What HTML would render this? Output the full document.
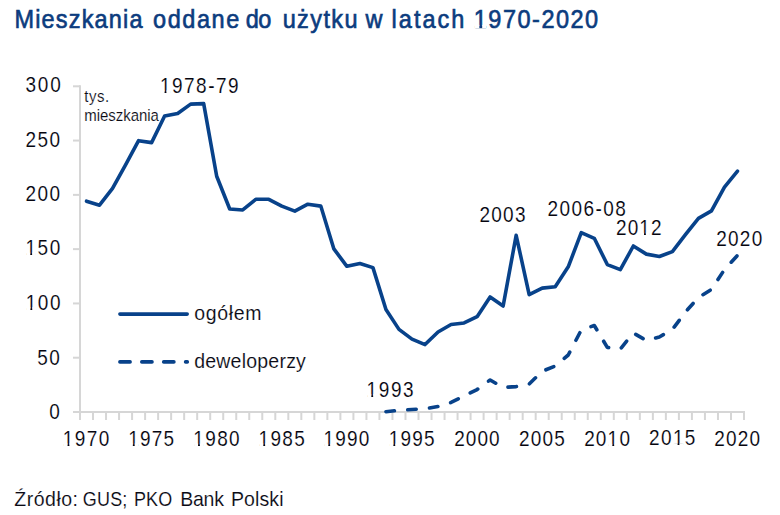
<!DOCTYPE html>
<html><head><meta charset="utf-8">
<style>
html,body{margin:0;padding:0;background:#fff;}
body{width:780px;height:515px;overflow:hidden;}
svg{display:block;font-family:"Liberation Sans",sans-serif;}
</style></head><body>
<svg width="780" height="515" viewBox="0 0 780 515">
<rect width="780" height="515" fill="#fff"/>
<g stroke="#d6d6d6" stroke-width="2" fill="none">
<line x1="80" y1="85.2" x2="80" y2="413"/>
<line x1="73" y1="412" x2="745" y2="412"/>
<line x1="80.00" y1="412" x2="80.00" y2="420"/>
<line x1="93.02" y1="412" x2="93.02" y2="420"/>
<line x1="106.04" y1="412" x2="106.04" y2="420"/>
<line x1="119.06" y1="412" x2="119.06" y2="420"/>
<line x1="132.08" y1="412" x2="132.08" y2="420"/>
<line x1="145.10" y1="412" x2="145.10" y2="420"/>
<line x1="158.12" y1="412" x2="158.12" y2="420"/>
<line x1="171.14" y1="412" x2="171.14" y2="420"/>
<line x1="184.16" y1="412" x2="184.16" y2="420"/>
<line x1="197.18" y1="412" x2="197.18" y2="420"/>
<line x1="210.20" y1="412" x2="210.20" y2="420"/>
<line x1="223.22" y1="412" x2="223.22" y2="420"/>
<line x1="236.24" y1="412" x2="236.24" y2="420"/>
<line x1="249.25" y1="412" x2="249.25" y2="420"/>
<line x1="262.27" y1="412" x2="262.27" y2="420"/>
<line x1="275.29" y1="412" x2="275.29" y2="420"/>
<line x1="288.31" y1="412" x2="288.31" y2="420"/>
<line x1="301.33" y1="412" x2="301.33" y2="420"/>
<line x1="314.35" y1="412" x2="314.35" y2="420"/>
<line x1="327.37" y1="412" x2="327.37" y2="420"/>
<line x1="340.39" y1="412" x2="340.39" y2="420"/>
<line x1="353.41" y1="412" x2="353.41" y2="420"/>
<line x1="366.43" y1="412" x2="366.43" y2="420"/>
<line x1="379.45" y1="412" x2="379.45" y2="420"/>
<line x1="392.47" y1="412" x2="392.47" y2="420"/>
<line x1="405.49" y1="412" x2="405.49" y2="420"/>
<line x1="418.51" y1="412" x2="418.51" y2="420"/>
<line x1="431.53" y1="412" x2="431.53" y2="420"/>
<line x1="444.55" y1="412" x2="444.55" y2="420"/>
<line x1="457.57" y1="412" x2="457.57" y2="420"/>
<line x1="470.59" y1="412" x2="470.59" y2="420"/>
<line x1="483.61" y1="412" x2="483.61" y2="420"/>
<line x1="496.63" y1="412" x2="496.63" y2="420"/>
<line x1="509.65" y1="412" x2="509.65" y2="420"/>
<line x1="522.67" y1="412" x2="522.67" y2="420"/>
<line x1="535.69" y1="412" x2="535.69" y2="420"/>
<line x1="548.71" y1="412" x2="548.71" y2="420"/>
<line x1="561.73" y1="412" x2="561.73" y2="420"/>
<line x1="574.75" y1="412" x2="574.75" y2="420"/>
<line x1="587.76" y1="412" x2="587.76" y2="420"/>
<line x1="600.78" y1="412" x2="600.78" y2="420"/>
<line x1="613.80" y1="412" x2="613.80" y2="420"/>
<line x1="626.82" y1="412" x2="626.82" y2="420"/>
<line x1="639.84" y1="412" x2="639.84" y2="420"/>
<line x1="652.86" y1="412" x2="652.86" y2="420"/>
<line x1="665.88" y1="412" x2="665.88" y2="420"/>
<line x1="678.90" y1="412" x2="678.90" y2="420"/>
<line x1="691.92" y1="412" x2="691.92" y2="420"/>
<line x1="704.94" y1="412" x2="704.94" y2="420"/>
<line x1="717.96" y1="412" x2="717.96" y2="420"/>
<line x1="730.98" y1="412" x2="730.98" y2="420"/>
<line x1="744.00" y1="412" x2="744.00" y2="420"/>
<line x1="73" y1="357.71" x2="80" y2="357.71"/>
<line x1="73" y1="303.43" x2="80" y2="303.43"/>
<line x1="73" y1="249.14" x2="80" y2="249.14"/>
<line x1="73" y1="194.86" x2="80" y2="194.86"/>
<line x1="73" y1="140.57" x2="80" y2="140.57"/>
<line x1="73" y1="86.29" x2="80" y2="86.29"/>
</g>
<polyline points="86.50,201.16 99.52,205.17 112.54,188.45 125.56,164.79 138.58,140.68 151.60,142.64 164.62,116.04 177.64,113.54 190.66,104.10 203.68,103.66 216.70,176.29 229.72,208.97 242.74,209.95 255.76,199.31 268.78,199.31 281.80,206.15 294.82,211.15 307.84,204.20 320.86,206.15 333.88,248.93 346.90,266.30 359.92,263.48 372.94,267.60 385.96,309.51 398.98,329.38 412.00,339.15 425.02,344.58 438.04,331.98 451.06,324.49 464.08,322.97 477.10,316.68 490.12,296.92 503.14,306.04 516.16,235.36 529.18,294.64 542.20,288.12 555.22,286.71 568.24,266.84 581.26,232.64 594.28,238.29 607.30,264.56 620.32,269.66 633.34,246.00 646.36,254.14 659.38,256.53 672.40,251.64 685.42,234.71 698.44,218.42 711.46,210.93 724.48,187.04 737.50,171.08" fill="none" stroke="#08428a" stroke-width="3.6" stroke-linejoin="round" stroke-linecap="round"/>
<polyline points="385.96,411.67 398.98,410.37 412.00,409.50 425.02,408.74 438.04,406.57 451.06,402.45 464.08,396.04 477.10,389.53 490.12,379.97 503.14,387.46 516.16,386.59 529.18,383.99 542.20,371.29 555.22,365.97 568.24,355.00 581.26,330.03 594.28,325.47 607.30,347.40 620.32,349.03 633.34,332.96 646.36,340.45 659.38,336.98 672.40,329.49 685.42,312.01 698.44,297.46 711.46,289.42 724.48,269.56 737.50,255.33" fill="none" stroke="#08428a" stroke-width="3.6" stroke-linejoin="round" stroke-linecap="round" stroke-dasharray="8.5 13.35"/>
<line x1="119.9" y1="314.1" x2="187.2" y2="314.1" stroke="#08428a" stroke-width="3.6" stroke-linecap="round"/>
<line x1="119.9" y1="361.9" x2="187.3" y2="361.9" stroke="#08428a" stroke-width="3.6" stroke-linecap="round" stroke-dasharray="10.2 11.7"/>
<text transform="translate(49.17 419.25) scale(1 1.17)" font-size="19" fill="#05050f" stroke="#fff" stroke-width="0.12" textLength="25.55" lengthAdjust="spacing">0</text>
<text transform="translate(37.31 364.50) scale(1 1.17)" font-size="19" fill="#05050f" stroke="#fff" stroke-width="0.12" textLength="22.42" lengthAdjust="spacing">50</text>
<text transform="translate(25.70 309.61) scale(1 1.17)" font-size="19" fill="#05050f" stroke="#fff" stroke-width="0.12" textLength="34.75" lengthAdjust="spacing">100</text>
<text transform="translate(25.57 254.92) scale(1 1.17)" font-size="19" fill="#05050f" stroke="#fff" stroke-width="0.12" textLength="34.66" lengthAdjust="spacing">150</text>
<text transform="translate(25.53 201.09) scale(1 1.17)" font-size="19" fill="#05050f" stroke="#fff" stroke-width="0.12" textLength="34.53" lengthAdjust="spacing">200</text>
<text transform="translate(25.56 146.85) scale(1 1.17)" font-size="19" fill="#05050f" stroke="#fff" stroke-width="0.12" textLength="34.50" lengthAdjust="spacing">250</text>
<text transform="translate(25.54 91.96) scale(1 1.17)" font-size="19" fill="#05050f" stroke="#fff" stroke-width="0.12" textLength="35.17" lengthAdjust="spacing">300</text>
<text transform="translate(62.86 445.83) scale(1 1.17)" font-size="19" fill="#05050f" stroke="#fff" stroke-width="0.12" textLength="46.54" lengthAdjust="spacing">1970</text>
<text transform="translate(128.14 445.84) scale(1 1.17)" font-size="19" fill="#05050f" stroke="#fff" stroke-width="0.12" textLength="45.84" lengthAdjust="spacing">1975</text>
<text transform="translate(193.36 445.82) scale(1 1.17)" font-size="19" fill="#05050f" stroke="#fff" stroke-width="0.12" textLength="46.28" lengthAdjust="spacing">1980</text>
<text transform="translate(258.59 445.80) scale(1 1.17)" font-size="19" fill="#05050f" stroke="#fff" stroke-width="0.12" textLength="46.13" lengthAdjust="spacing">1985</text>
<text transform="translate(323.58 446.13) scale(1 1.17)" font-size="19" fill="#05050f" stroke="#fff" stroke-width="0.12" textLength="45.68" lengthAdjust="spacing">1990</text>
<text transform="translate(388.67 446.02) scale(1 1.17)" font-size="19" fill="#05050f" stroke="#fff" stroke-width="0.12" textLength="45.85" lengthAdjust="spacing">1995</text>
<text transform="translate(454.16 446.02) scale(1 1.17)" font-size="19" fill="#05050f" stroke="#fff" stroke-width="0.12" textLength="45.53" lengthAdjust="spacing">2000</text>
<text transform="translate(519.03 445.96) scale(1 1.17)" font-size="19" fill="#05050f" stroke="#fff" stroke-width="0.12" textLength="45.85" lengthAdjust="spacing">2005</text>
<text transform="translate(584.13 446.17) scale(1 1.17)" font-size="19" fill="#05050f" stroke="#fff" stroke-width="0.12" textLength="45.82" lengthAdjust="spacing">2010</text>
<text transform="translate(649.03 445.43) scale(1 1.17)" font-size="19" fill="#05050f" stroke="#fff" stroke-width="0.12" textLength="46.35" lengthAdjust="spacing">2015</text>
<text transform="translate(714.18 446.02) scale(1 1.17)" font-size="19" fill="#05050f" stroke="#fff" stroke-width="0.12" textLength="45.90" lengthAdjust="spacing">2020</text>
<text transform="translate(159.88 92.80) scale(1 1.17)" font-size="19" fill="#05050f" stroke="#fff" stroke-width="0.12" textLength="78.78" lengthAdjust="spacing">1978-79</text>
<text transform="translate(366.60 396.56) scale(1 1.17)" font-size="19" fill="#05050f" stroke="#fff" stroke-width="0.12" textLength="47.06" lengthAdjust="spacing">1993</text>
<text transform="translate(479.39 221.74) scale(1 1.17)" font-size="19" fill="#05050f" stroke="#fff" stroke-width="0.12" textLength="46.18" lengthAdjust="spacing">2003</text>
<text transform="translate(547.42 215.86) scale(1 1.17)" font-size="19" fill="#05050f" stroke="#fff" stroke-width="0.12" textLength="78.35" lengthAdjust="spacing">2006-08</text>
<text transform="translate(616.06 235.00) scale(1 1.17)" font-size="19" fill="#05050f" stroke="#fff" stroke-width="0.12" textLength="45.46" lengthAdjust="spacing">2012</text>
<text transform="translate(716.26 245.89) scale(1 1.17)" font-size="19" fill="#05050f" stroke="#fff" stroke-width="0.12" textLength="45.96" lengthAdjust="spacing">2020</text>
<text transform="translate(14.43 27.70) scale(1 1.09)" font-size="23.5" fill="#0c3c7e" stroke="#0c3c7e" stroke-width="0.6" textLength="128.15" lengthAdjust="spacing">Mieszkania</text>
<text transform="translate(153.05 27.70) scale(1 1.09)" font-size="23.5" fill="#0c3c7e" stroke="#0c3c7e" stroke-width="0.6" textLength="86.21" lengthAdjust="spacing">oddane</text>
<text transform="translate(245.74 27.70) scale(1 1.09)" font-size="23.5" fill="#0c3c7e" stroke="#0c3c7e" stroke-width="0.6" textLength="25.64" lengthAdjust="spacing">do</text>
<text transform="translate(282.64 27.70) scale(1 1.09)" font-size="23.5" fill="#0c3c7e" stroke="#0c3c7e" stroke-width="0.6" textLength="74.88" lengthAdjust="spacing">użytku</text>
<text transform="translate(365.45 27.70) scale(1 1.09)" font-size="23.5" fill="#0c3c7e" stroke="#0c3c7e" stroke-width="0.6" textLength="27.59" lengthAdjust="spacing">w</text>
<text transform="translate(391.62 27.70) scale(1 1.09)" font-size="23.5" fill="#0c3c7e" stroke="#0c3c7e" stroke-width="0.6" textLength="72.82" lengthAdjust="spacing">latach</text>
<text transform="translate(473.81 27.70) scale(1 1.09)" font-size="23.5" fill="#0c3c7e" stroke="#0c3c7e" stroke-width="0.6" textLength="124.34" lengthAdjust="spacing">1970-2020</text>
<text transform="translate(14.35 505.60) scale(1 1.06)" font-size="19.5" fill="#0a0a14" stroke="#fff" stroke-width="0.12" textLength="63.65" lengthAdjust="spacing">Źródło:</text>
<text transform="translate(82.86 505.60) scale(1 1.15)" font-size="18" fill="#0a0a14" stroke="#fff" stroke-width="0.12" textLength="44.51" lengthAdjust="spacing">GUS;</text>
<text transform="translate(133.88 505.60) scale(1 1.15)" font-size="18" fill="#0a0a14" stroke="#fff" stroke-width="0.12" textLength="38.47" lengthAdjust="spacing">PKO</text>
<text transform="translate(180.28 505.60) scale(1 1.06)" font-size="19.5" fill="#0a0a14" stroke="#fff" stroke-width="0.12" textLength="43.62" lengthAdjust="spacing">Bank</text>
<text transform="translate(230.98 505.60) scale(1 1.06)" font-size="19.5" fill="#0a0a14" stroke="#fff" stroke-width="0.12" textLength="52.56" lengthAdjust="spacing">Polski</text>
<text transform="translate(84.24 101.70) scale(1 1.05)" font-size="15" fill="#0a0a14" stroke="#fff" stroke-width="0.12" textLength="24.97" lengthAdjust="spacing">tys.</text>
<text transform="translate(84.23 120.70) scale(1 1.05)" font-size="15" fill="#0a0a14" stroke="#fff" stroke-width="0.12" textLength="74.68" lengthAdjust="spacing">mieszkania</text>
<text transform="translate(194.31 320.00) scale(1 1.04)" font-size="19.5" fill="#0a0a14" stroke="#fff" stroke-width="0.12" textLength="67.27" lengthAdjust="spacing">ogółem</text>
<text transform="translate(194.17 367.80) scale(1 1.04)" font-size="19.5" fill="#0a0a14" stroke="#fff" stroke-width="0.12" textLength="111.67" lengthAdjust="spacing">deweloperzy</text>
<rect x="26.45" y="307.35" width="3.95" height="2.86" fill="#fff"/>
<rect x="32.24" y="307.35" width="3.80" height="2.86" fill="#fff"/>
<rect x="26.32" y="252.66" width="3.95" height="2.86" fill="#fff"/>
<rect x="32.11" y="252.66" width="3.80" height="2.86" fill="#fff"/>
<rect x="63.61" y="443.57" width="3.95" height="2.86" fill="#fff"/>
<rect x="69.40" y="443.57" width="3.80" height="2.86" fill="#fff"/>
<rect x="128.89" y="443.58" width="3.95" height="2.86" fill="#fff"/>
<rect x="134.68" y="443.58" width="3.80" height="2.86" fill="#fff"/>
<rect x="194.11" y="443.56" width="3.95" height="2.86" fill="#fff"/>
<rect x="199.90" y="443.56" width="3.80" height="2.86" fill="#fff"/>
<rect x="259.34" y="443.54" width="3.95" height="2.86" fill="#fff"/>
<rect x="265.13" y="443.54" width="3.80" height="2.86" fill="#fff"/>
<rect x="324.33" y="443.87" width="3.95" height="2.86" fill="#fff"/>
<rect x="330.12" y="443.87" width="3.80" height="2.86" fill="#fff"/>
<rect x="389.42" y="443.76" width="3.95" height="2.86" fill="#fff"/>
<rect x="395.21" y="443.76" width="3.80" height="2.86" fill="#fff"/>
<rect x="608.38" y="443.91" width="3.95" height="2.86" fill="#fff"/>
<rect x="614.17" y="443.91" width="3.80" height="2.86" fill="#fff"/>
<rect x="673.63" y="443.17" width="3.95" height="2.86" fill="#fff"/>
<rect x="679.42" y="443.17" width="3.80" height="2.86" fill="#fff"/>
<rect x="160.63" y="90.54" width="3.95" height="2.86" fill="#fff"/>
<rect x="166.42" y="90.54" width="3.80" height="2.86" fill="#fff"/>
<rect x="367.35" y="394.30" width="3.95" height="2.86" fill="#fff"/>
<rect x="373.14" y="394.30" width="3.80" height="2.86" fill="#fff"/>
<rect x="640.07" y="232.74" width="3.95" height="2.86" fill="#fff"/>
<rect x="645.86" y="232.74" width="3.80" height="2.86" fill="#fff"/>
<rect x="474.90" y="24.89" width="4.44" height="3.41" fill="#fff"/>
<rect x="482.18" y="24.89" width="4.26" height="3.41" fill="#fff"/>
</svg>
</body></html>
